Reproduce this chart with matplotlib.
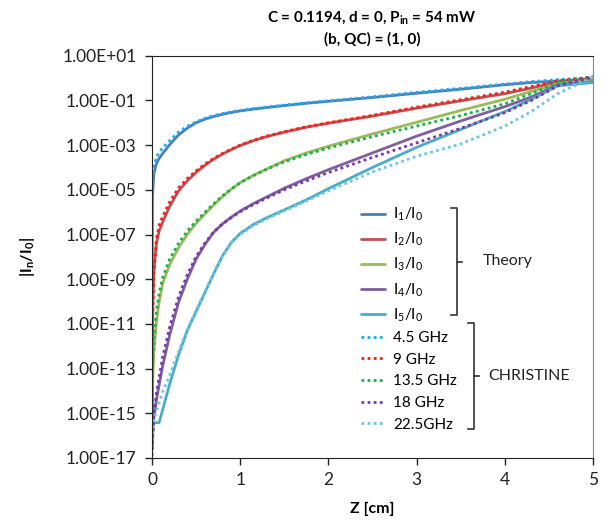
import numpy as np
import matplotlib
matplotlib.use("Agg")
import matplotlib.pyplot as plt
from matplotlib.ticker import FuncFormatter, FixedLocator, NullLocator
from matplotlib.lines import Line2D

# ============================================================
# Data (stored as log10|In/I0|)
# ============================================================

z = [0, 0.005, 0.02, 0.05, 0.08, 0.12, 0.2, 0.3, 0.4, 0.5, 0.6, 0.7, 0.8, 0.9,
     1.0, 1.15, 1.3, 1.5, 1.75, 2.0, 2.5, 3.0, 3.5, 4.0, 4.3, 4.6, 5.0]

# theory
i1_log = [-16.6, -5.3, -4.3, -3.82, -3.6, -3.38, -2.98, -2.55, -2.24, -2.0, -1.84, -1.72, -1.62, -1.54,
          -1.47, -1.39, -1.32, -1.23, -1.13, -1.04, -0.87, -0.68, -0.5, -0.3, -0.2, -0.13, -0.08]
i2_log = [-15.6, -10.8, -8.7, -7.4, -6.85, -6.45, -5.75, -5.05, -4.6, -4.22, -3.9, -3.63, -3.4, -3.2,
          -3.02, -2.8, -2.62, -2.42, -2.2, -2.02, -1.7, -1.35, -1.02, -0.7, -0.45, -0.17, -0.02]
i3_log = [-15.2, -13.8, -12.3, -10.9, -10.05, -9.2, -8.35, -7.6, -7.0, -6.5, -6.08, -5.68, -5.3, -4.97,
          -4.68, -4.35, -4.07, -3.7, -3.35, -3.05, -2.5, -1.98, -1.45, -0.95, -0.6, -0.25, -0.12]
i4_log = [-16.6, -16.1, -15.2, -14.4, -13.75, -12.9, -11.5, -10.05, -9.0, -8.1, -7.45, -6.9, -6.52, -6.22,
          -5.95, -5.62, -5.32, -4.93, -4.5, -4.1, -3.35, -2.6, -1.92, -1.28, -0.85, -0.3, -0.17]
i5_log = [-15.42, -15.42, -15.42, -15.42, -15.42, -14.85, -13.7, -12.4, -11.3, -10.45, -9.6, -8.75, -7.95, -7.35,
          -6.95, -6.55, -6.25, -5.9, -5.45, -4.95, -4.0, -3.1, -2.3, -1.5, -0.95, -0.35, -0.2]

# CHRISTINE
c45_log = [-5.1, -4.6, -3.95, -3.55, -3.33, -3.12, -2.8, -2.42, -2.16, -1.96, -1.8, -1.68, -1.59, -1.51,
           -1.45, -1.37, -1.3, -1.21, -1.11, -1.02, -0.84, -0.64, -0.46, -0.27, -0.16, -0.07, 0.02]
c9_log = [-15.9, -11.3, -8.8, -7.2, -6.6, -6.2, -5.55, -4.92, -4.5, -4.15, -3.85, -3.59, -3.37, -3.18,
          -3.0, -2.78, -2.6, -2.4, -2.18, -2.0, -1.67, -1.3, -0.97, -0.63, -0.38, -0.12, 0.05]
c135_log = [-15.5, -13.2, -11.7, -10.4, -9.65, -8.95, -8.1, -7.4, -6.85, -6.4, -6.0, -5.62, -5.27, -4.96,
            -4.68, -4.36, -4.08, -3.75, -3.42, -3.13, -2.62, -2.15, -1.68, -1.15, -0.7, -0.2, 0.05]
c18_log = [-16.9, -16.3, -15.1, -14.1, -13.4, -12.5, -11.15, -9.8, -8.8, -7.98, -7.38, -6.88, -6.52, -6.24,
           -5.98, -5.66, -5.37, -5.0, -4.6, -4.23, -3.55, -2.9, -2.25, -1.55, -1.0, -0.35, 0.05]
c225_log = [-16.2, -15.8, -15.3, -14.9, -14.55, -14.05, -13.3, -12.25, -11.25, -10.4, -9.55, -8.72, -7.95, -7.38,
            -7.0, -6.6, -6.3, -5.95, -5.5, -5.05, -4.2, -3.5, -2.95, -2.15, -1.5, -0.7, 0.05]

theory_labels = ["I$_1$/I$_0$", "I$_2$/I$_0$", "I$_3$/I$_0$", "I$_4$/I$_0$", "I$_5$/I$_0$"]
christine_labels = ["4.5 GHz", "9 GHz", "13.5 GHz", "18 GHz", "22.5GHz"]
y_ticks = [1e1, 1e-1, 1e-3, 1e-5, 1e-7, 1e-9, 1e-11, 1e-13, 1e-15, 1e-17]
x_ticks = [0, 1, 2, 3, 4, 5]

theory_colors = ["#4A7EBB", "#C0504D", "#9BBB59", "#7D5FA0", "#4BACC6"]
christine_colors = ["#1FA9F0", "#FF1A1A", "#16B052", "#7A35B0", "#6CC7E2"]

# ============================================================
# Figure
# ============================================================

plt.rcParams["font.family"] = ["Lato", "DejaVu Sans"]
plt.rcParams["mathtext.default"] = "regular"

W, H = 606, 520
fig = plt.figure(figsize=(W / 100, H / 100), dpi=100)
ax = fig.add_axes([152 / W, 1 - 458 / H, (593 - 152) / W, (458 - 55.7) / H])

theory = [i1_log, i2_log, i3_log, i4_log, i5_log]
christine = [c45_log, c9_log, c135_log, c18_log, c225_log]

handles = []
for vals, col, lab in zip(theory, theory_colors, theory_labels):
    h, = ax.plot(z, 10 ** np.array(vals), color=col, lw=2.0, label=lab,
                 solid_capstyle="round", solid_joinstyle="round")
    handles.append(h)
for vals, col, lab in zip(christine, christine_colors, christine_labels):
    h, = ax.plot(z, 10 ** np.array(vals), color=col, lw=2.0, ls=(0, (1, 1.2)),
                 label=lab)
    handles.append(h)

ax.set_yscale("log")
ax.set_ylim(1e-17, 1e1)
ax.set_xlim(0, 5)
ax.yaxis.set_major_locator(FixedLocator(y_ticks))
ax.yaxis.set_minor_locator(NullLocator())
ax.yaxis.set_major_formatter(FuncFormatter(lambda v, p: f"{v:.2E}"))
ax.set_xticks(x_ticks)
ax.tick_params(axis="both", direction="out", length=5, width=1, labelsize=12.5,
               colors="#222222")
ax.tick_params(axis="y", pad=6)
ax.tick_params(axis="x", pad=5)

for side in ["left", "bottom"]:
    ax.spines[side].set_color("#222222")
ax.spines["top"].set_color("#222222")
ax.spines["right"].set_color("#888888")

ax.set_xlabel("Z [cm]", fontsize=11.5, fontweight="bold", labelpad=10)
ax.set_ylabel("|I$_n$/I$_0$|", fontsize=11.5, fontweight="bold", labelpad=18)

fig.text(372 / W, 1 - 18 / H, "C = 0.1194, d = 0, P$_{in}$ = 54 mW",
         ha="center", va="center", fontsize=11, fontweight="bold")
fig.text(372 / W, 1 - 39 / H, "(b, QC) = (1, 0)",
         ha="center", va="center", fontsize=11, fontweight="bold")

leg = fig.legend(handles=handles, loc="upper left",
                 bbox_to_anchor=(361 / W, 1 - 206 / H), frameon=False,
                 fontsize=11, handlelength=1.55, handletextpad=0.55,
                 labelspacing=0.5, borderpad=0, borderaxespad=0)


# brackets grouping the legend entries (pixel coordinates of the figure)
def bracket(x, y_top, y_bot, label, tx):
    def fx(px):
        return px / W

    def fy(py):
        return 1 - py / H

    ym = (y_top + y_bot) / 2
    pts_x = [x - 6, x, x, x - 6]
    pts_y = [y_top, y_top, y_bot, y_bot]
    fig.add_artist(Line2D([fx(p) for p in pts_x], [fy(p) for p in pts_y],
                          color="#333333", lw=1.2))
    fig.add_artist(Line2D([fx(x), fx(x + 5)], [fy(ym), fy(ym)],
                          color="#333333", lw=1.2))
    fig.text(fx(tx), fy(ym), label, ha="left", va="center", fontsize=11.5,
             color="#222222")


bracket(457, 208, 315, "Theory", 483)
bracket(474, 323, 429, "CHRISTINE", 488)

fig.savefig("out.png", dpi=100)
